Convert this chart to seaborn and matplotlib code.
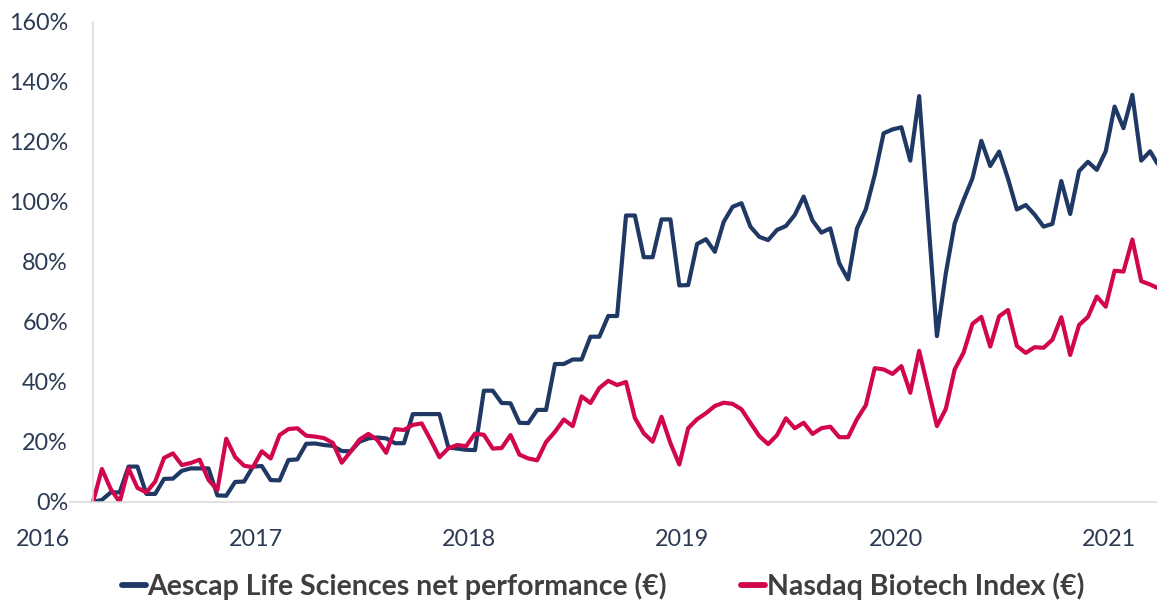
import numpy as np
import pandas as pd
import matplotlib
matplotlib.use("Agg")
import matplotlib.pyplot as plt
from matplotlib.lines import Line2D
import seaborn as sns

# ---------------- data (percent, semi-monthly from end of March 2016) ----------------
series_names = ["Aescap Life Sciences net performance (€)", "Nasdaq Biotech Index (€)"]

aescap = [0, 0.7, 3.2, 3.2, 11.8, 11.8, 2.7, 2.7, 7.7, 7.8,
          10.4, 11.2, 11.2, 11.2, 2.2, 2.1, 6.7, 6.8, 11.8, 12.0,
          7.3, 7.2, 14.0, 14.2, 19.4, 19.5, 19.0, 18.7, 17.0, 16.9,
          20.1, 21.2, 21.5, 21.2, 19.6, 19.6, 29.3, 29.3, 29.3, 29.3,
          18.2, 17.8, 17.4, 17.3, 37.1, 37.1, 33.0, 32.9, 26.4, 26.3,
          30.7, 30.7, 46.0, 46.0, 47.5, 47.5, 55.1, 55.1, 62.0, 62.0,
          95.5, 95.5, 81.6, 81.6, 94.2, 94.2, 72.2, 72.3, 86.0, 87.6,
          83.4, 93.4, 98.4, 99.6, 91.8, 88.4, 87.3, 90.7, 92.0, 95.7,
          101.8, 93.8, 89.8, 91.2, 79.6, 74.2, 91.2, 97.6, 109.0, 122.9,
          124.2, 124.9, 113.8, 135.3, 95.0, 55.3, 76.2, 92.9, 100.7, 107.9,
          120.4, 112.0, 116.8, 107.8, 97.5, 99.0, 95.8, 91.8, 92.7, 107.0,
          96.0, 110.3, 113.4, 110.7, 116.9, 131.8, 124.6, 135.7, 113.8, 116.9,
          111.9]

nasdaq = [0, 11.0, 4.3, 0, 11.2, 4.7, 3.2, 6.8, 14.7, 16.2,
          12.3, 13.0, 14.1, 7.4, 4.0, 21.1, 15.0, 12.1, 11.6, 16.9,
          14.5, 22.3, 24.3, 24.6, 22.1, 21.8, 21.3, 19.7, 13.1, 16.8,
          20.8, 22.7, 20.7, 16.4, 24.3, 24.0, 25.7, 26.2, 20.7, 14.9,
          17.9, 19.0, 18.6, 22.8, 22.4, 17.8, 18.0, 22.3, 15.8, 14.5,
          13.9, 20.0, 23.4, 27.5, 25.3, 35.2, 33.0, 38.0, 40.4, 39.0,
          40.0, 28.0, 22.9, 20.1, 28.4, 19.6, 12.5, 24.6, 27.6, 29.6,
          32.0, 33.1, 32.7, 30.9, 26.4, 22.0, 19.3, 22.3, 27.9, 24.6,
          26.4, 22.7, 24.6, 25.1, 21.6, 21.6, 27.6, 32.3, 44.6, 44.2,
          42.7, 45.3, 36.4, 50.4, 37.9, 25.3, 31.0, 44.2, 49.8, 59.4,
          61.7, 51.8, 61.9, 64.0, 52.0, 49.7, 51.6, 51.4, 54.1, 61.6,
          49.0, 59.0, 61.7, 68.5, 65.1, 77.1, 76.8, 87.5, 73.6, 72.5,
          71.1]

start_year = 2016.2355      # first observation (end of March 2016)
periods_per_year = 24       # semi-monthly observations
year_ticks = [2017, 2018, 2019, 2020, 2021]
first_year_label = 2016
y_ticks = [0, 20, 40, 60, 80, 100, 120, 140, 160]

# ---------------- styling ----------------
navy = "#1F3864"
crimson = "#D2054F"
label_color = "#2B3A55"
legend_color = "#3F3F3F"
axis_grey = "#D9D9D9"

n = len(aescap)
t = start_year + np.arange(n) / periods_per_year
df = pd.DataFrame({
    "t": np.concatenate([t, t]),
    "value": aescap + nasdaq,
    "series": [series_names[0]] * n + [series_names[1]] * n,
})

sns.set_theme(style="white")
plt.rcParams["font.family"] = ["Lato", "DejaVu Sans"]

W, H = 1157, 602
fig = plt.figure(figsize=(W / 100, H / 100), dpi=100)
px_year = 213.2
px_2016 = 42.8
left_px, right_px, top_px, bottom_px = 70, 1157, 22, 502
ax = fig.add_axes([left_px / W, 1 - bottom_px / H, (right_px - left_px) / W, (bottom_px - top_px) / H])

sns.lineplot(data=df, x="t", y="value", hue="series", palette=[navy, crimson],
             linewidth=3.0, ax=ax, legend=False, sort=False)
for ln in ax.lines:
    ln.set_solid_joinstyle("round")
    ln.set_solid_capstyle("butt")

ax.set_xlim(2016 + (left_px - px_2016) / px_year, 2016 + (right_px - px_2016) / px_year)
ax.set_ylim(0, 160)

for s in ["top", "right"]:
    ax.spines[s].set_visible(False)
ax.spines["left"].set_position(("data", start_year))
for s in ["left", "bottom"]:
    ax.spines[s].set_color(axis_grey)
    ax.spines[s].set_linewidth(1.1)

ax.set_yticks(y_ticks)
ax.set_yticklabels([f"{v}%" for v in y_ticks])
ax.set_xticks(year_ticks)
ax.set_xticklabels([str(y) for y in year_ticks])
ax.tick_params(axis="y", length=0, pad=18, labelsize=16.8, labelcolor=label_color)
ax.tick_params(axis="x", length=5.5, width=1.0, color=axis_grey, direction="out",
               pad=14, labelsize=16.8, labelcolor=label_color)
ax.set_xlabel("")
ax.set_ylabel("")

# label for 2016 (lies left of the plotted range)
ax.annotate(str(first_year_label), xy=(first_year_label, 0), xycoords=("data", "axes fraction"),
            xytext=(0, -37), textcoords="offset pixels", ha="center", va="center",
            fontsize=16.8, color=label_color, annotation_clip=False)

handles = [Line2D([0], [0], color=navy, lw=4.2), Line2D([0], [0], color=crimson, lw=4.2)]
fig.legend(handles, series_names, loc="center", bbox_to_anchor=(603 / W, 1 - 586 / H),
           ncol=2, frameon=False, handlelength=0.85, handletextpad=0.05, columnspacing=2.6,
           prop={"family": "Lato", "weight": "bold", "size": 20.5}, labelcolor=legend_color)

fig.savefig("out.png", dpi=100)
